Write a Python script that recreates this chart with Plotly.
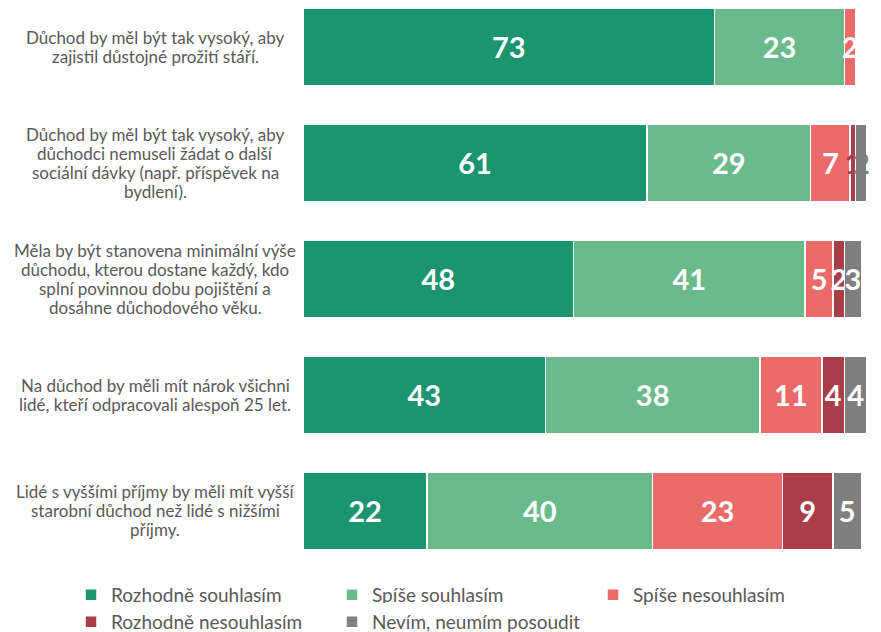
import plotly.graph_objects as go

categories = [
    "Důchod by měl být tak vysoký, aby<br>zajistil důstojné prožití stáří.",
    "Důchod by měl být tak vysoký, aby<br>důchodci nemuseli žádat o další<br>sociální dávky (např. příspěvek na<br>bydlení).",
    "Měla by být stanovena minimální výše<br>důchodu, kterou dostane každý, kdo<br>splní povinnou dobu pojištění a<br>dosáhne důchodového věku.",
    "Na důchod by měli mít nárok všichni<br>lidé, kteří odpracovali alespoň 25 let.",
    "Lidé s vyššími příjmy by měli mít vyšší<br>starobní důchod než lidé s nižšími<br>příjmy.",
]
series_names = ["Rozhodně souhlasím", "Spíše souhlasím", "Spíše nesouhlasím",
                "Rozhodně nesouhlasím", "Nevím, neumím posoudit"]
rozhodne_souhlasim = [73, 61, 48, 43, 22]
spise_souhlasim = [23, 29, 41, 38, 40]
spise_nesouhlasim = [2, 7, 5, 11, 23]
rozhodne_nesouhlasim = [0, 1, 2, 4, 9]
nevim = [0, 2, 3, 4, 5]

values = [rozhodne_souhlasim, spise_souhlasim, spise_nesouhlasim, rozhodne_nesouhlasim, nevim]
colors = ["#1B946F", "#6BBA8B", "#EB6A6A", "#A93D48", "#7F7F7F"]

idx = list(range(len(categories)))
fig = go.Figure()
for s, (name, vals, col) in enumerate(zip(series_names, values, colors)):
    tcolors = []
    for i, v in enumerate(vals):
        if i == 1 and s >= 3:
            tcolors.append(col)
        else:
            tcolors.append("white")
    fig.add_trace(go.Bar(
        y=idx, x=vals, name=name, orientation="h",
        marker=dict(color=col, line=dict(color="white", width=1.5)),
        text=[str(v) if v > 0 else "" for v in vals],
        textposition="inside", insidetextanchor="middle",
        textfont=dict(family="Lato", size=29, color=tcolors, weight="bold"),
        constraintext="none", cliponaxis=False,
        hoverinfo="skip",
        legend="legend" if s < 3 else "legend2",
    ))

line_h = 19
for i, c in enumerate(categories):
    lines = c.split("<br>")
    n = len(lines)
    for k, ln in enumerate(lines):
        fig.add_annotation(
            x=-0.2624, xref="paper", y=i, yref="y", text=ln, showarrow=False,
            xanchor="center", yanchor="middle", align="center",
            yshift=((n - 1) / 2 - k) * line_h,
            font=dict(family="Lato", size=17, color="#595959"),
        )

legend_common = dict(orientation="h", xanchor="left", yanchor="top",
                     entrywidth=216, entrywidthmode="pixels", traceorder="normal",
                     font=dict(family="Lato", size=19, color="#595959"),
                     tracegroupgap=0)

plot_h = 560
fig.update_layout(
    width=881, height=632,
    margin=dict(l=303, r=14, t=0, b=632 - plot_h),
    barmode="stack", bargap=0.33,
    plot_bgcolor="white", paper_bgcolor="white",
    uniformtext=dict(minsize=29, mode="show"),
    xaxis=dict(range=[0, 100], visible=False, fixedrange=True),
    yaxis=dict(range=[-0.405 + plot_h / 116, -0.405], visible=False, fixedrange=True),
    legend=dict(x=(71 - 303) / 564, y=-(576 - plot_h) / plot_h, **legend_common),
    legend2=dict(x=71 / 881, xref="container", y=1 - 603 / 632, yref="container",
                 **legend_common),
    showlegend=True,
)
fig.write_html("out.html")
